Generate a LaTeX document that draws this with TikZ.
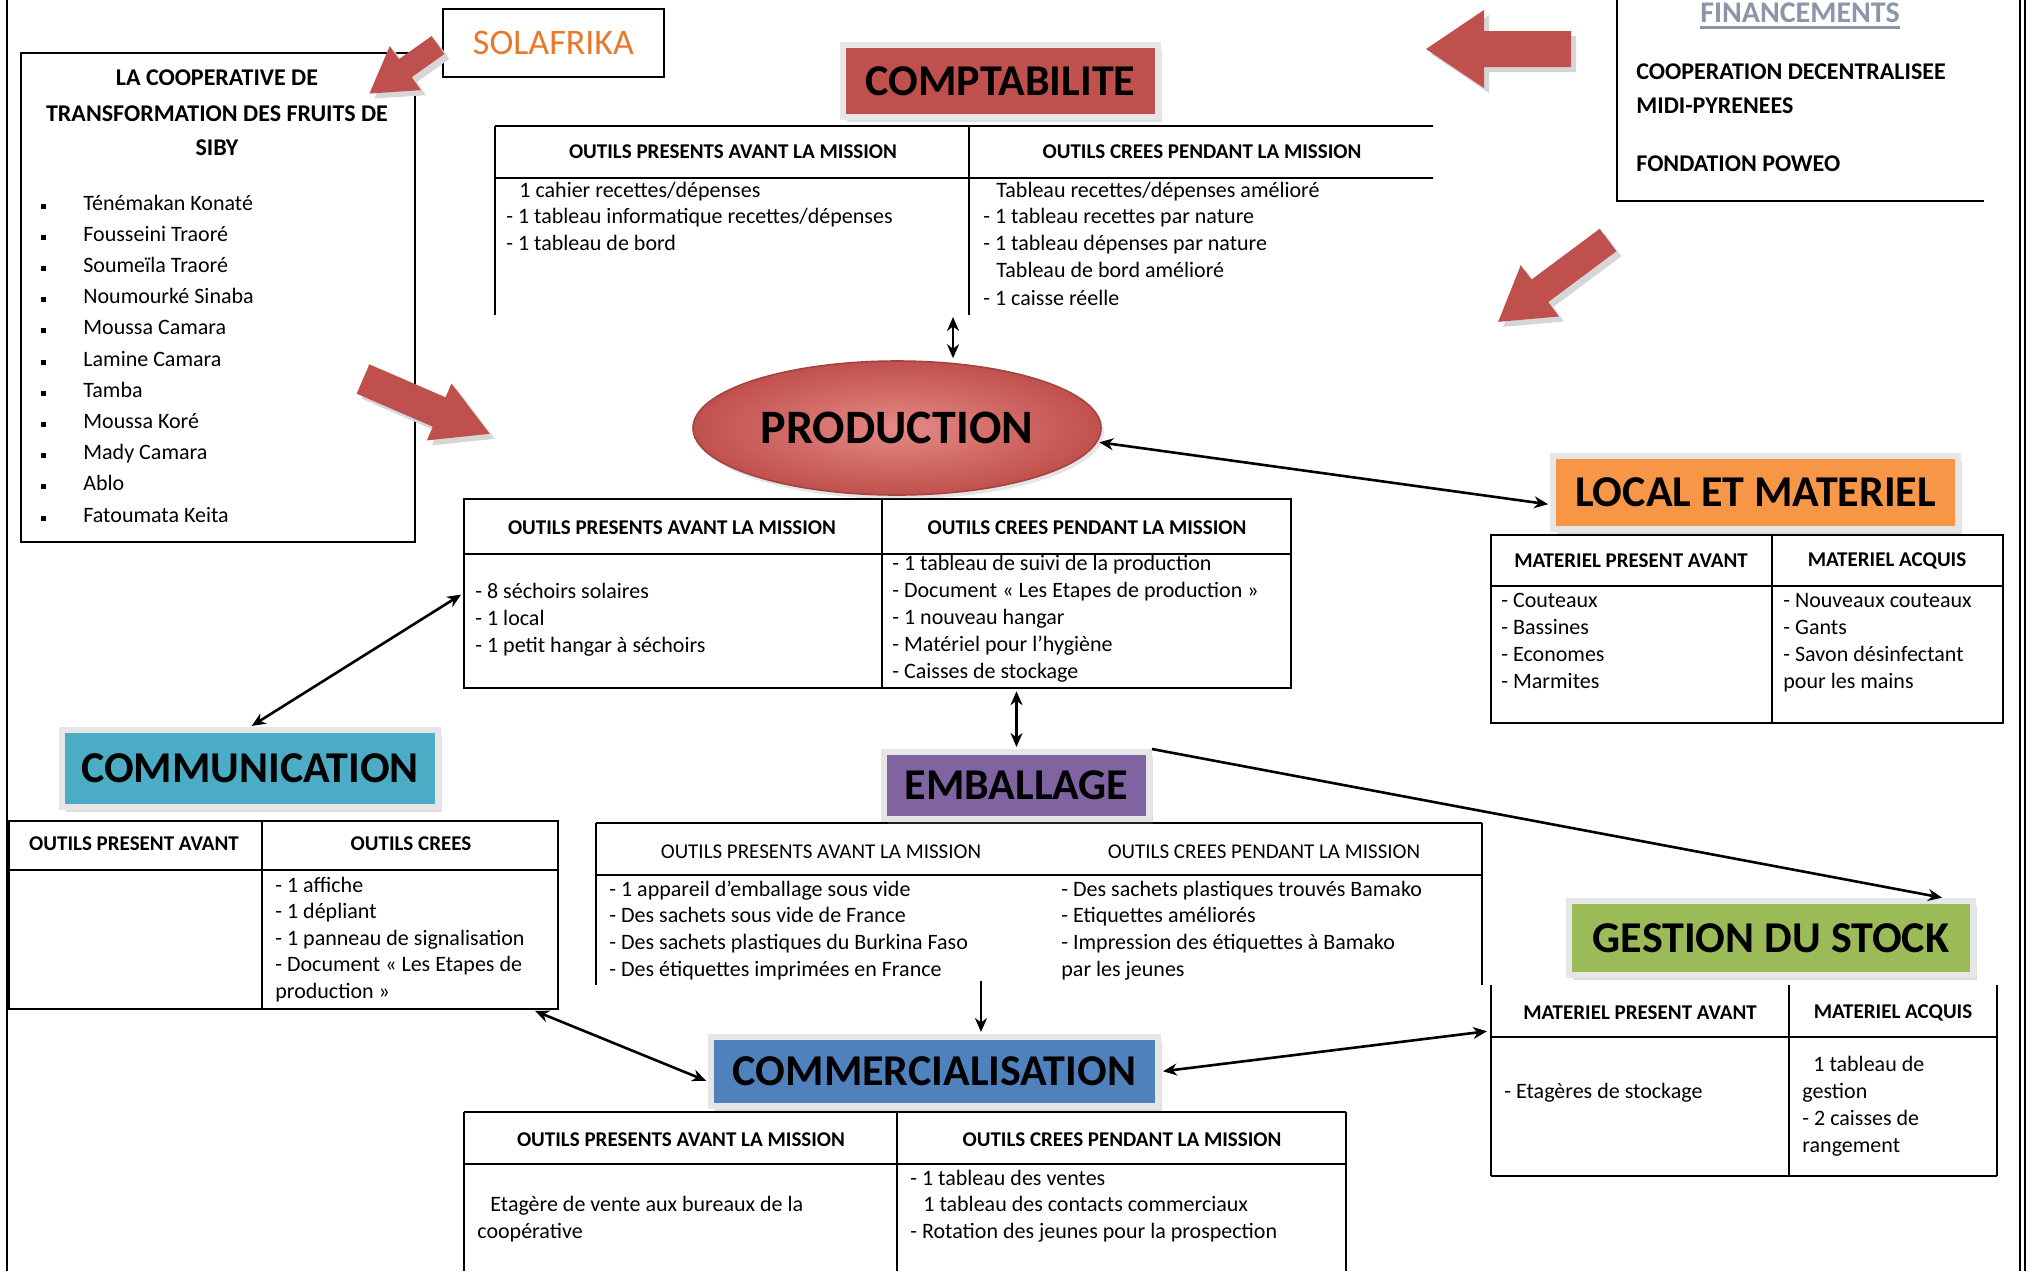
\documentclass[tikz,border=0pt]{standalone}
\usepackage{fontspec}
\setmainfont{Carlito}
\usetikzlibrary{arrows.meta,shapes.geometric,shadows,calc}
\definecolor{cred}{HTML}{C0504D}
\definecolor{corange}{HTML}{F79646}
\definecolor{ccyan}{HTML}{4BACC6}
\definecolor{cpurple}{HTML}{8064A2}
\definecolor{cgreen}{HTML}{9BBB59}
\definecolor{cblue}{HTML}{4F81BD}
\definecolor{csol}{HTML}{E8782A}
\definecolor{cfin}{HTML}{8C96A8}
\definecolor{cframe}{HTML}{E6E6E6}
\definecolor{cprodin}{HTML}{E58A86}
\newcommand\blockarrow[7]{%
  \begin{scope}[shift={({#1+5},{#2+5})},rotate=#3]
    \fill[black!16] (0,-#5) -- ({#4-#7},-#5) -- ({#4-#7},-#6) -- (#4,0) -- ({#4-#7},#6) -- ({#4-#7},#5) -- (0,#5) -- cycle;
  \end{scope}
  \begin{scope}[shift={(#1,#2)},rotate=#3]
    \fill[cred] (0,-#5) -- ({#4-#7},-#5) -- ({#4-#7},-#6) -- (#4,0) -- ({#4-#7},#6) -- ({#4-#7},#5) -- (0,#5) -- cycle;
  \end{scope}}
\newcommand\tlines[5]{\foreach \lbl [count=\i] in {#5} {\node[txt] (#1\i) at (#2,{#3+(\i-1)*#4+5}) {\lbl};}}
\tikzset{
  txt/.style={anchor=base west, inner sep=0pt, font=\fontsize{11}{13}\selectfont},
  hdr/.style={inner sep=0pt, font=\bfseries\fontsize{10.5}{12}\selectfont},
  tline/.style={line width=1.2pt},
  tbl/.style={draw, line width=1.2pt, inner sep=0pt},
  tbox/.style={draw=cframe, line width=3pt, inner sep=0pt, font=\bfseries\fontsize{22}{26}\selectfont,
    drop shadow={opacity=0.25, shadow xshift=2pt, shadow yshift=-2.5pt}},
  dconn/.style={line width=1.3pt, {Stealth[length=7pt,width=6pt]}-{Stealth[length=7pt,width=6pt]}, shorten <=1pt, shorten >=1pt},
  sconn/.style={line width=1.3pt, -{Stealth[length=7pt,width=6pt]}, shorten >=1pt},
}
\begin{document}
\begin{tikzpicture}[x=0.5pt,y=-0.5pt]
\useasboundingbox (0,0) rectangle (2033,1271);
\clip (0,0) rectangle (2033,1271);
\fill[white] (0,0) rectangle (2033,1271);
% page borders
\draw[line width=1pt] (7,0) -- (7,1271);
\draw[line width=0.8pt] (2020,0) -- (2020,1271);
\draw[line width=0.8pt] (2025,0) -- (2025,1271);

% ---------- SOLAFRIKA
\node[draw, line width=1.2pt, minimum width=110.5pt, minimum height=34pt, inner sep=0pt, text=csol,
  font=\fontsize{18}{20}\selectfont] (solaf) at (553.5,43) {SOLAFRIKA};

% ---------- Cooperative
\node[tbl, minimum width=197pt, minimum height=244.5pt] (coop) at (218,297.5) {};
\node[inner sep=0pt, font=\bfseries\fontsize{12}{14}\selectfont] (coopt1) at (217,78) {LA COOPERATIVE DE};
\node[inner sep=0pt, font=\bfseries\fontsize{12}{14}\selectfont] (coopt2) at (217,114) {TRANSFORMATION DES FRUITS DE};
\node[inner sep=0pt, font=\bfseries\fontsize{12}{14}\selectfont] (coopt3) at (217,148) {SIBY};
\foreach \nm [count=\i] in {Ténémakan Konaté, Fousseini Traoré, Soumeïla Traoré, Noumourké Sinaba, Moussa Camara,
  Lamine Camara, Tamba, Moussa Koré, Mady Camara, Ablo, Fatoumata Keita} {
  \node[fill=black, inner sep=0pt, minimum size=2.5pt] (bul\i) at (43,{205+(\i-1)*31.2+1}) {};
  \node[txt] (name\i) at (83,{205+(\i-1)*31.2+5}) {\nm};
}

% ---------- Comptabilite table
\draw[tline] (495,126) -- (1433,126);
\draw[tline] (495,178) -- (1433,178);
\draw[tline] (495,126) -- (495,315);
\draw[tline] (969,126) -- (969,315);
\node[hdr] (ch1) at (733,152) {OUTILS PRESENTS AVANT LA MISSION};
\node[hdr] (ch2) at (1202,152) {OUTILS CREES PENDANT LA MISSION};
\node[txt] (cl1) at (519,197) {1 cahier recettes/dépenses};
\node[txt] (cl2) at (506,223) {- 1 tableau informatique recettes/dépenses};
\node[txt] (cl3) at (506,250) {- 1 tableau de bord};
\node[txt] (cr1) at (996,197) {Tableau recettes/dépenses amélioré};
\node[txt] (cr2) at (983,223) {- 1 tableau recettes par nature};
\node[txt] (cr3) at (983,250) {- 1 tableau dépenses par nature};
\node[txt] (cr4) at (996,277) {Tableau de bord amélioré};
\node[txt] (cr5) at (983,305) {- 1 caisse réelle};
\node[tbox, fill=cred, minimum width=157.5pt, minimum height=36pt] (compt) at (1000.5,81) {COMPTABILITE};

% ---------- Production
\node[tbl, minimum width=413.5pt, minimum height=94.5pt] (prodtab) at (877.5,593.5) {};
\draw[tline] (464,554) -- (1291,554);
\draw[tline] (882,499) -- (882,688);
\node[hdr] (ph1) at (672,528) {OUTILS PRESENTS AVANT LA MISSION};
\node[hdr] (ph2) at (1087,528) {OUTILS CREES PENDANT LA MISSION};
\tlines{pl}{475}{593}{27}{- 8 séchoirs solaires, - 1 local, - 1 petit hangar à séchoirs}
\tlines{pr}{892}{565}{27}{- 1 tableau de suivi de la production, - Document « Les Etapes de production », - 1 nouveau hangar, - Matériel pour l’hygiène, - Caisses de stockage}
\node[ellipse, minimum width=204pt, minimum height=67pt, inner sep=0pt, draw=cred!85!black, line width=0.8pt,
  inner color=cprodin, outer color=cred, font=\bfseries\fontsize{24}{28}\selectfont,
  drop shadow={opacity=0.2, shadow xshift=1.5pt, shadow yshift=-2pt}] (prod) at (897,428) {PRODUCTION};

% ---------- Local et materiel
\node[tbl, minimum width=256pt, minimum height=94pt] (localtab) at (1747,629) {};
\draw[tline] (1491,586) -- (2003,586);
\draw[tline] (1772,535) -- (1772,723);
\node[hdr] (lh1) at (1631,561) {MATERIEL PRESENT AVANT};
\node[hdr] (lh2) at (1887,561) {MATERIEL ACQUIS};
\tlines{ll}{1501}{602}{27}{- Couteaux, - Bassines, - Economes, - Marmites}
\tlines{lr}{1783}{602}{27}{- Nouveaux couteaux, - Gants, - Savon désinfectant, pour les mains}
\node[tbox, fill=corange, minimum width=202.5pt, minimum height=36.5pt] (local) at (1755.5,492.5) {LOCAL ET MATERIEL};

% ---------- Communication
\node[tbl, minimum width=274.5pt, minimum height=94pt] (commtab) at (283.5,915) {};
\draw[tline] (9,870) -- (558,870);
\draw[tline] (262,821) -- (262,1009);
\node[hdr] (mh1) at (134,844) {OUTILS PRESENT AVANT};
\node[hdr] (mh2) at (411,844) {OUTILS CREES};
\tlines{mr}{275}{887}{26.5}{- 1 affiche, - 1 dépliant, - 1 panneau de signalisation, - Document « Les Etapes de, production »}
\node[tbox, fill=ccyan, minimum width=188pt, minimum height=38.5pt] (comm) at (250,768.5) {COMMUNICATION};

% ---------- Emballage
\draw[tline] (596,823) -- (1482,823);
\draw[tline] (596,875) -- (1482,875);
\draw[tline] (596,823) -- (596,985);
\draw[tline] (1482,823) -- (1482,985);
\node[hdr, font=\fontsize{10.5}{12}\selectfont] (eh1) at (821,852) {OUTILS PRESENTS AVANT LA MISSION};
\node[hdr, font=\fontsize{10.5}{12}\selectfont] (eh2) at (1264,852) {OUTILS CREES PENDANT LA MISSION};
\tlines{el}{609}{891}{26.7}{- 1 appareil d’emballage sous vide, -  Des sachets sous vide de France, -  Des sachets plastiques du Burkina Faso, - Des étiquettes imprimées en France}
\tlines{er}{1061}{891}{26.7}{- Des sachets plastiques trouvés  Bamako, - Etiquettes améliorés, - Impression des étiquettes à Bamako, par les jeunes}
\node[tbox, fill=cpurple, minimum width=132.5pt, minimum height=33.5pt] (emb) at (1016.5,785.5) {EMBALLAGE};

% ---------- Gestion du stock
\draw[tline] (1491,985) -- (1491,1176);
\draw[tline] (1997,985) -- (1997,1176);
\draw[tline] (1789,985) -- (1789,1176);
\draw[tline] (1491,1037) -- (1997,1037);
\draw[tline] (1491,1176) -- (1997,1176);
\node[hdr] (gh1) at (1640,1013) {MATERIEL PRESENT AVANT};
\node[hdr] (gh2) at (1893,1013) {MATERIEL ACQUIS};
\node[txt] (gl1) at (1504,1098) {- Etagères de stockage};
\node[txt] (gr1) at (1813,1071) {1 tableau de};
\node[txt] (gr2) at (1802,1098) {gestion};
\node[txt] (gr3) at (1802,1125) {- 2 caisses de};
\node[txt] (gr4) at (1802,1152) {rangement};
\node[tbox, fill=cgreen, minimum width=202pt, minimum height=37pt] (gest) at (1771,938) {GESTION DU STOCK};

% ---------- Commercialisation
\draw[tline] (464,1112) -- (1346,1112);
\draw[tline] (464,1164) -- (1346,1164);
\draw[tline] (464,1112) -- (464,1271);
\draw[tline] (1346,1112) -- (1346,1271);
\draw[tline] (897,1112) -- (897,1271);
\node[hdr] (kh1) at (681,1140) {OUTILS PRESENTS AVANT LA MISSION};
\node[hdr] (kh2) at (1122,1140) {OUTILS CREES PENDANT LA MISSION};
\node[txt] (kl1) at (490,1211) {Etagère de vente aux bureaux de la};
\node[txt] (kl2) at (477,1238) {coopérative};
\node[txt] (kr1) at (910,1185) {- 1 tableau des ventes};
\node[txt] (kr2) at (923,1211) {1 tableau des contacts commerciaux};
\node[txt] (kr3) at (910,1238) {- Rotation des jeunes pour la prospection};
\node[tbox, fill=cblue, minimum width=223.5pt, minimum height=34.5pt] (commerc) at (934.5,1071.5) {COMMERCIALISATION};

% ---------- Financements
\draw[tline] (1617,0) -- (1617,201) -- (1984,201);
\node[inner sep=0pt, text=cfin, font=\bfseries\fontsize{15}{17}\selectfont] (fin) at (1800,13) {FINANCEMENTS};
\draw[cfin, line width=1.5pt] ([yshift=-2pt]fin.south west) -- ([yshift=-2pt]fin.south east);
\node[txt, font=\bfseries\fontsize{12}{14}\selectfont] (f1) at (1636,79) {COOPERATION DECENTRALISEE};
\node[txt, font=\bfseries\fontsize{12}{14}\selectfont] (f2) at (1636,113) {MIDI-PYRENEES};
\node[txt, font=\bfseries\fontsize{12}{14}\selectfont] (f3) at (1636,171) {FONDATION POWEO};

% ---------- block arrows
\blockarrow{438}{45}{215.3}{84}{11}{27}{44}
\blockarrow{363}{379}{-23.4}{138}{16}{31}{55}
\blockarrow{1571}{49}{180}{145}{18}{39}{58}
\blockarrow{1608}{240}{216.7}{137}{14}{32}{52}

% ---------- connectors
\coordinate (cA) at (953,315);
\draw[dconn] (cA) -- (cA |- prod.north);
\draw[dconn] (prod.-4) -- ([yshift=-6pt]local.west);
\draw[dconn] (prodtab.west) -- (comm.north);
\draw[dconn] (emb.north |- prodtab.south) -- (emb.north);
\draw[sconn] (emb.north east) -- ([xshift=-16pt]gest.north east);
\coordinate (gst) at (1489,1031);
\draw[dconn] (commerc.east) -- (gst);
\draw[dconn] ([xshift=-13pt]commtab.south east) -- ([yshift=-5pt]commerc.west);
\coordinate (eA) at (981,981);
\draw[sconn] (eA) -- (eA |- commerc.north);
\end{tikzpicture}
\end{document}
